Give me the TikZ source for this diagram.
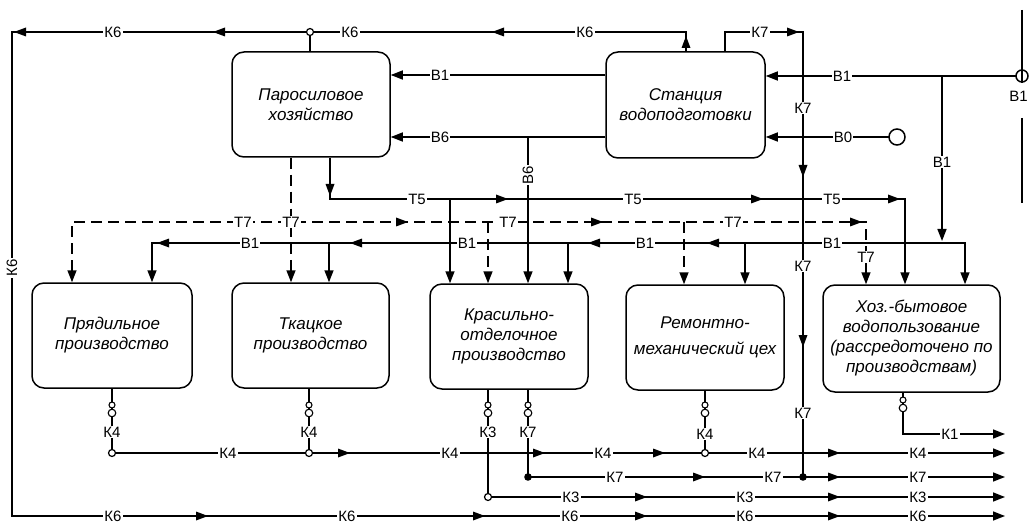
\documentclass[tikz,border=0pt]{standalone}
\usepackage{fontspec}
\setmainfont{Liberation Sans}
\usetikzlibrary{arrows.meta}
\tikzset{
  ln/.style={line width=1.5pt},
  tl/.style={line width=1.5pt, dash pattern=on 11pt off 6pt},
  lbl/.style={fill=white, inner xsep=1.2pt, inner ysep=0.6pt, font=\fontsize{15}{15}\selectfont},
  box/.style={draw, line width=1.5pt, rounded corners=12pt, align=center, inner sep=0pt, font=\fontsize{17}{20}\selectfont\itshape},
  pics/ahR/.style={code={\fill (0,0) -- (-12,-4.5) -- (-12,4.5) -- cycle;}},
  pics/ahL/.style={code={\fill (0,0) -- (12,-4.5) -- (12,4.5) -- cycle;}},
  pics/ahD/.style={code={\fill (0,0) -- (-4.5,-12) -- (4.5,-12) -- cycle;}},
  pics/ahU/.style={code={\fill (0,0) -- (-4.5,12) -- (4.5,12) -- cycle;}},
  pics/trap/.style={code={\draw[line width=1.1pt,fill=white] (0,-4) circle (3pt); \draw[line width=1.1pt,fill=white] (0,4) circle (3.8pt);}},
  jc/.style={line width=1.2pt, fill=white},
}
\newcommand\arrR[1]{\pic at (#1) {ahR};}
\newcommand\arrL[1]{\pic at (#1) {ahL};}
\newcommand\arrU[1]{\pic at (#1) {ahU};}
\newcommand\arrD[1]{\pic at (#1) {ahD};}
\newcommand\trapat[1]{\pic at (#1) {trap};}
\begin{document}
\begin{tikzpicture}[x=1pt,y=-1pt,>={Triangle[length=12pt,width=9pt]}]
\useasboundingbox (0,0) rectangle (1029,524);
% boxes
\node[box,minimum width=158pt,minimum height=105pt] (par) at (311,104.5) {Паросиловое\\хозяйство};
\node[box,minimum width=159pt,minimum height=106pt] (stan) at (685.5,105) {Станция\\водоподготовки};
\node[box,minimum width=160pt,minimum height=105pt] (pryad) at (112,335.5) {Прядильное\\производство};
\node[box,minimum width=157pt,minimum height=105pt] (tkac) at (310.5,335.5) {Ткацкое\\производство};
\node[box,minimum width=158pt,minimum height=105pt] (kras) at (509,336.5) {Красильно-\\отделочное\\производство};
\node[box,minimum width=158pt,minimum height=105pt] (rem) at (705,337.5) {Ремонтно-\\[6pt]механический цех};
\node[box,minimum width=177pt,minimum height=107pt] (hoz) at (911.5,338.5) {Хоз.-бытовое\\водопользование\\(рассредоточено по\\производствам)};
% K6 loop
\draw[ln,->] (stan.north -| 686,0) -- (686,32) -- (12,32) -- (12,516) -- (1005,516);
\arrU{686,36}\arrL{492,32}\arrL{213,32}\arrL{14,32}
\arrR{208,516}\arrR{485,516}\arrR{647,516}\arrR{840,516}
\draw[ln] (par.north -| 310,0) -- (310,35.5);
\draw[jc] (310,32) circle (3.5pt);
% K7
\draw[ln] (stan.north -| 725,0) -- (725,32) -- (803,32) -- (803,477);
\arrR{799,32}\arrD{803,177}\arrD{803,347}
% B1 input
\draw[ln] (1022,10) -- (1022,83);
\draw[ln] (1022,76) circle (6pt);
\draw[ln] (1022,118) -- (1022,203);
\draw[ln,->] (1016,76) -- (stan.east |- 0,76);
\draw[ln,->] (942,76) -- (942,241);
% B1, B6 to par
\draw[ln,->] (stan.west |- 0,75) -- (par.east |- 0,75);
\draw[ln,->] (stan.west |- 0,137) -- (par.east |- 0,137);
\draw[ln,->] (528,137) -- (kras.north -| 528,0);
% B0
\draw[ln] (897,137) circle (8pt);
\draw[ln,->] (889,137) -- (stan.east |- 0,137);
% T5
\draw[ln,->] (par.south -| 330,0) -- (330,199) -- (905,199) -- (hoz.north -| 905,0);
\arrD{330,196}\arrR{508,199}\arrR{763,199}\arrR{900,199}
\draw[ln,->] (450,199) -- (kras.north -| 450,0);
% T7
\draw[tl,<->] (pryad.north -| 72,0) -- (72,222) -- (866,222) -- (hoz.north -| 866,0);
\arrR{408,222}\arrR{603,222}\arrR{862,222}
\draw[tl,->] (par.south -| 291,0) -- (tkac.north -| 291,0);
\draw[tl,->] (488,222) -- (kras.north -| 488,0);
\draw[tl,->] (684,222) -- (rem.north -| 684,0);
% B1 distribution
\draw[ln,->] (942,243) -- (965,243) -- (hoz.north -| 965,0);
\draw[ln,->] (942,243) -- (152,243) -- (pryad.north -| 152,0);
\arrL{157,243}\arrL{350,243}\arrL{588,243}\arrL{707,243}
\draw[ln,->] (329,243) -- (tkac.north -| 329,0);
\draw[ln,->] (568,243) -- (kras.north -| 568,0);
\draw[ln,->] (745,243) -- (rem.north -| 745,0);
% discharges
\draw[ln] (pryad.south -| 112,0) -- (112,449.5);
\draw[ln] (tkac.south -| 309,0) -- (309,449.5);
\draw[ln] (rem.south -| 705,0) -- (705,449.5);
\draw[ln] (kras.south -| 488,0) -- (488,493.5);
\draw[ln] (kras.south -| 528,0) -- (528,477);
\draw[ln,->] (hoz.south -| 903,0) -- (903,434) -- (1005,434);
\trapat{112,409}\trapat{309,409}\trapat{705,409}\trapat{488,409}\trapat{903,404}
\pic[line width=1.7pt] at (528,409) {trap};
% K4 line
\draw[ln,->] (112,453) -- (1005,453);
\arrR{350,453}\arrR{545,453}\arrR{665,453}\arrR{840,453}
\draw[jc] (112,453) circle (3.5pt);
\draw[jc] (309,453) circle (3.5pt);
\draw[jc] (705,453) circle (3.5pt);
% K7 line
\draw[ln,->] (528,477) -- (1005,477);
\fill (528,477) circle (3.8pt);
\fill (803,477) circle (3.8pt);
\arrR{705,477}\arrR{840,477}
% K3 line
\draw[ln,->] (488,497) -- (1005,497);
\draw[jc] (488,497) circle (3.5pt);
\arrR{647,497}\arrR{840,497}
% labels
\node[lbl] (lk6a) at (113,32) {К6};
\node[lbl] (lk6b) at (350,32) {К6};
\node[lbl] (lk6c) at (585,32) {К6};
\node[lbl,rotate=90] (lk6d) at (12,268) {К6};
\node[lbl] (lk6e) at (113,516) {К6};
\node[lbl] (lk6f) at (347,516) {К6};
\node[lbl] (lk6g) at (570,516) {К6};
\node[lbl] (lk6h) at (745,516) {К6};
\node[lbl] (lk6i) at (918,516) {К6};
\node[lbl] (lk7a) at (760,32) {К7};
\node[lbl] (lk7b) at (803,108) {К7};
\node[lbl] (lk7c) at (803,266) {К7};
\node[lbl] (lk7d) at (803,413) {К7};
\node[lbl,anchor=east,fill=none] (lb1in) at (1029,96) {В1};
\node[lbl] (lb1a) at (842,76) {В1};
\node[lbl] (lb1b) at (942,162) {В1};
\node[lbl] (lb1c) at (440,75) {В1};
\node[lbl] (lb6a) at (440,137) {В6};
\node[lbl,rotate=90] (lb6b) at (528,175) {В6};
\node[lbl] (lb0) at (843,137) {В0};
\node[lbl] (lt5a) at (417,199) {Т5};
\node[lbl] (lt5b) at (633,199) {Т5};
\node[lbl] (lt5c) at (832,199) {Т5};
\node[lbl] (lt7a) at (243,222) {Т7};
\node[lbl] (lt7b) at (291,222) {Т7};
\node[lbl] (lt7c) at (508,222) {Т7};
\node[lbl] (lt7d) at (733,222) {Т7};
\node[lbl] (lt7e) at (866,257) {Т7};
\node[lbl] (lb1d) at (250,243) {В1};
\node[lbl] (lb1e) at (467,243) {В1};
\node[lbl] (lb1f) at (645,243) {В1};
\node[lbl] (lb1g) at (832,243) {В1};
\node[lbl] (lk4a) at (112,432) {К4};
\node[lbl] (lk4b) at (309,432) {К4};
\node[lbl] (lk4c) at (705,434) {К4};
\node[lbl] (lk3a) at (488,432) {К3};
\node[lbl] (lk7e) at (528,432) {К7};
\node[lbl] (lk1) at (950,434) {К1};
\node[lbl] (lk4d) at (228,453) {К4};
\node[lbl] (lk4e) at (450,453) {К4};
\node[lbl] (lk4f) at (603,453) {К4};
\node[lbl] (lk4g) at (757,453) {К4};
\node[lbl] (lk4h) at (918,453) {К4};
\node[lbl] (lk7f) at (615,477) {К7};
\node[lbl] (lk7g) at (773,477) {К7};
\node[lbl] (lk7h) at (918,477) {К7};
\node[lbl] (lk3b) at (571,497) {К3};
\node[lbl] (lk3c) at (745,497) {К3};
\node[lbl] (lk3d) at (918,497) {К3};
\end{tikzpicture}
\end{document}
